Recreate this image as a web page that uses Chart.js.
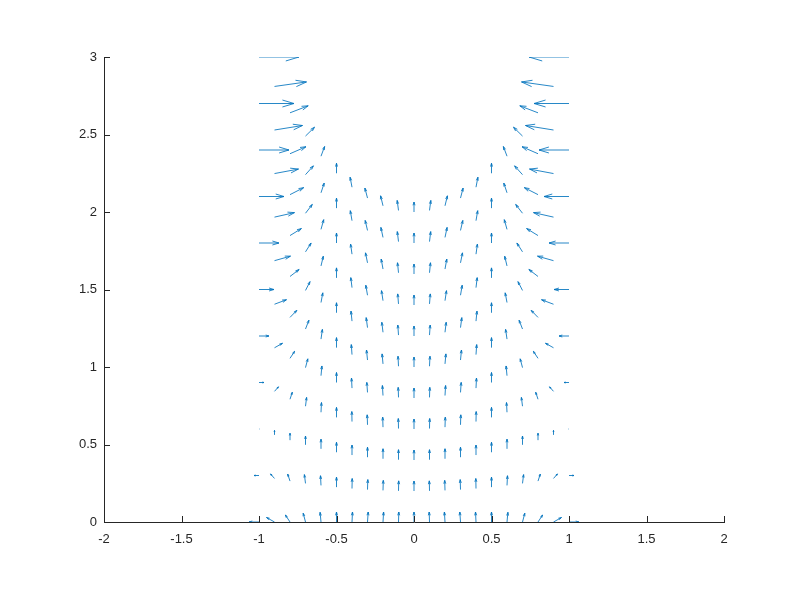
<!DOCTYPE html>
<html>
<head>
<meta charset="utf-8">
<script src="https://cdn.jsdelivr.net/npm/chart.js@4.4.1/dist/chart.umd.min.js"></script>
<style>
  html, body { margin: 0; padding: 0; background: #ffffff; }
  #wrap { width: 800px; height: 600px; }
</style>
</head>
<body>
<div id="wrap"><canvas id="c" width="800" height="600"></canvas></div>
<script>
// ---- data ----
const xTicks = [-2, -1.5, -1, -0.5, 0, 0.5, 1, 1.5, 2];
const xTickLabels = ['-2', '-1.5', '-1', '-0.5', '0', '0.5', '1', '1.5', '2'];
const yTicks = [0, 0.5, 1, 1.5, 2, 2.5, 3];
const yTickLabels = ['0', '0.5', '1', '1.5', '2', '2.5', '3'];

// arrow tail x positions (columns)
const columnX = [-1, -0.9, -0.8, -0.7, -0.6, -0.5, -0.4, -0.3, -0.2, -0.1, 0,
                 0.1, 0.2, 0.3, 0.4, 0.5, 0.6, 0.7, 0.8, 0.9, 1];

// arrow tail y positions, one row per curve
const tailY = [
  [0,0,0,0,0,0,0,0,0,0,0,0,0,0,0,0,0,0,0,0,0],
  [0.30,0.281,0.264,0.249,0.236,0.225,0.216,0.209,0.204,0.201,0.200,0.201,0.204,0.209,0.216,0.225,0.236,0.249,0.264,0.281,0.30],
  [0.60,0.562,0.528,0.498,0.472,0.45,0.432,0.418,0.408,0.402,0.40,0.402,0.408,0.418,0.432,0.45,0.472,0.498,0.528,0.562,0.60],
  [0.90,0.843,0.792,0.747,0.708,0.675,0.648,0.627,0.612,0.603,0.60,0.603,0.612,0.627,0.648,0.675,0.708,0.747,0.792,0.843,0.90],
  [1.20,1.124,1.056,0.996,0.944,0.90,0.864,0.836,0.816,0.804,0.80,0.804,0.816,0.836,0.864,0.90,0.944,0.996,1.056,1.124,1.20],
  [1.50,1.405,1.32,1.245,1.18,1.125,1.08,1.045,1.02,1.005,1.00,1.005,1.02,1.045,1.08,1.125,1.18,1.245,1.32,1.405,1.50],
  [1.80,1.686,1.584,1.494,1.416,1.35,1.296,1.254,1.224,1.206,1.20,1.206,1.224,1.254,1.296,1.35,1.416,1.494,1.584,1.686,1.80],
  [2.10,1.967,1.848,1.743,1.652,1.575,1.512,1.463,1.428,1.407,1.40,1.407,1.428,1.463,1.512,1.575,1.652,1.743,1.848,1.967,2.10],
  [2.40,2.248,2.112,1.992,1.888,1.80,1.728,1.672,1.632,1.608,1.60,1.608,1.632,1.672,1.728,1.80,1.888,1.992,2.112,2.248,2.40],
  [2.70,2.529,2.376,2.241,2.124,2.025,1.944,1.881,1.836,1.809,1.80,1.809,1.836,1.881,1.944,2.025,2.124,2.241,2.376,2.529,2.70],
  [3.00,2.81,2.64,2.49,2.36,2.25,2.16,2.09,2.04,2.01,2.00,2.01,2.04,2.09,2.16,2.25,2.36,2.49,2.64,2.81,3.00]
];

// horizontal arrow components, same layout as tailY
const uValues = [
  [-1.0,-0.8,-0.46,-0.23,-0.09,0,0.05,0.07,0.06,0.03,0,-0.03,-0.06,-0.07,-0.05,0,0.09,0.23,0.46,0.8,1.0],
  [-0.5,-0.4,-0.23,-0.11,-0.05,0,0.02,0.03,0.03,0.02,0,-0.02,-0.03,-0.03,-0.02,0,0.05,0.11,0.23,0.4,0.5],
  [0.03,0,0,0,0,0,0,0,0,0,0,0,0,0,0,0,0,0,0,0,-0.03],
  [0.5,0.4,0.23,0.11,0.05,0,-0.02,-0.03,-0.03,-0.02,0,0.02,0.03,0.03,0.02,0,-0.05,-0.11,-0.23,-0.4,-0.5],
  [1.0,0.8,0.46,0.23,0.09,0,-0.05,-0.07,-0.06,-0.03,0,0.03,0.06,0.07,0.05,0,-0.09,-0.23,-0.46,-0.8,-1.0],
  [1.5,1.2,0.68,0.34,0.14,0,-0.07,-0.1,-0.09,-0.05,0,0.05,0.09,0.1,0.07,0,-0.14,-0.34,-0.68,-1.2,-1.5],
  [2.0,1.6,0.91,0.45,0.18,0,-0.1,-0.13,-0.12,-0.07,0,0.07,0.12,0.13,0.1,0,-0.18,-0.45,-0.91,-1.6,-2.0],
  [2.5,2.0,1.14,0.56,0.23,0,-0.12,-0.17,-0.15,-0.08,0,0.08,0.15,0.17,0.12,0,-0.23,-0.56,-1.14,-2.0,-2.5],
  [3.0,2.4,1.37,0.68,0.27,0,-0.14,-0.2,-0.18,-0.1,0,0.1,0.18,0.2,0.14,0,-0.27,-0.68,-1.37,-2.4,-3.0],
  [3.5,2.8,1.6,0.79,0.32,0,-0.17,-0.23,-0.21,-0.12,0,0.12,0.21,0.23,0.17,0,-0.32,-0.79,-1.6,-2.8,-3.5],
  [4.0,3.2,1.82,0.9,0.36,0,-0.19,-0.26,-0.24,-0.13,0,0.13,0.24,0.26,0.19,0,-0.36,-0.9,-1.82,-3.2,-4.0]
];

// vertical arrow component per column (same down every column)
const vByColumn = [0,0.45,0.7,0.88,0.97,1,1,1,1,1,1,1,1,1,1,1,0.97,0.88,0.7,0.45,0];

// ---- build library data ----
const quiverScale = 0.0645;   // data units per unit of (u, v)
const AXIS_COLOR = '#262626';
const ARROW_COLOR = '#0072BD';

const arrows = [];
for (let r = 0; r < tailY.length; r++) {
  for (let c = 0; c < columnX.length; c++) {
    arrows.push({ x: columnX[c], y: tailY[r][c], u: uValues[r][c], v: vByColumn[c] });
  }
}

const quiverPlugin = {
  id: 'quiver',
  afterDatasetsDraw(chart) {
    const { ctx, chartArea: a, scales: { x, y } } = chart;
    ctx.save();
    ctx.beginPath();
    ctx.rect(a.left, a.top, a.right - a.left, a.bottom - a.top);
    ctx.clip();
    ctx.strokeStyle = ARROW_COLOR;
    ctx.lineWidth = 0.85;
    ctx.lineCap = 'butt';
    const alpha = 0.33, beta = 0.3;
    const pts = chart.data.datasets[0].data;
    for (const p of pts) {
      if (p.u === 0 && p.v === 0) continue;
      const x0 = x.getPixelForValue(p.x);
      const y0 = y.getPixelForValue(p.y);
      const x1 = x.getPixelForValue(p.x + p.u * quiverScale);
      const y1 = y.getPixelForValue(p.y + p.v * quiverScale);
      const dx = x1 - x0, dy = y1 - y0;
      ctx.beginPath();
      ctx.moveTo(x0, y0);
      ctx.lineTo(x1, y1);
      ctx.moveTo(x1 - alpha * (dx + beta * dy), y1 - alpha * (dy - beta * dx));
      ctx.lineTo(x1, y1);
      ctx.lineTo(x1 - alpha * (dx - beta * dy), y1 - alpha * (dy + beta * dx));
      ctx.stroke();
    }
    ctx.restore();

    // inward tick marks
    ctx.save();
    ctx.strokeStyle = AXIS_COLOR;
    ctx.lineWidth = 1;
    ctx.beginPath();
    for (const t of xTicks) {
      const px = Math.round(x.getPixelForValue(t)) + 0.5;
      ctx.moveTo(px, a.bottom);
      ctx.lineTo(px, a.bottom - 6);
    }
    for (const t of yTicks) {
      const py = Math.round(y.getPixelForValue(t)) + 0.5;
      ctx.moveTo(a.left, py);
      ctx.lineTo(a.left + 6, py);
    }
    ctx.stroke();
    ctx.restore();
  }
};

new Chart(document.getElementById('c'), {
  type: 'scatter',
  data: {
    datasets: [{
      data: arrows,
      pointRadius: 0,
      showLine: false
    }]
  },
  options: {
    responsive: false,
    animation: false,
    events: [],
    layout: { padding: { left: 0, top: 57, right: 76, bottom: 0 } },
    plugins: { legend: { display: false }, tooltip: { enabled: false } },
    scales: {
      x: {
        type: 'linear',
        min: -2, max: 2,
        afterBuildTicks: (s) => { s.ticks = xTicks.map(v => ({ value: v })); },
        afterFit: (s) => { s.height = 78; },
        grid: { display: false, drawTicks: false },
        border: { display: true, color: AXIS_COLOR, width: 1 },
        ticks: {
          color: AXIS_COLOR,
          padding: 10,
          maxRotation: 0,
          autoSkip: false,
          font: { family: 'Liberation Sans, Arial, sans-serif', size: 13 },
          callback: (v) => xTickLabels[xTicks.indexOf(v)]
        }
      },
      y: {
        type: 'linear',
        min: 0, max: 3,
        afterBuildTicks: (s) => { s.ticks = yTicks.map(v => ({ value: v })); },
        afterFit: (s) => { s.width = 104; },
        grid: { display: false, drawTicks: false },
        border: { display: true, color: AXIS_COLOR, width: 1 },
        ticks: {
          color: AXIS_COLOR,
          padding: 7,
          autoSkip: false,
          font: { family: 'Liberation Sans, Arial, sans-serif', size: 13 },
          callback: (v) => yTickLabels[yTicks.indexOf(v)]
        }
      }
    }
  },
  plugins: [quiverPlugin]
});
</script>
</body>
</html>
